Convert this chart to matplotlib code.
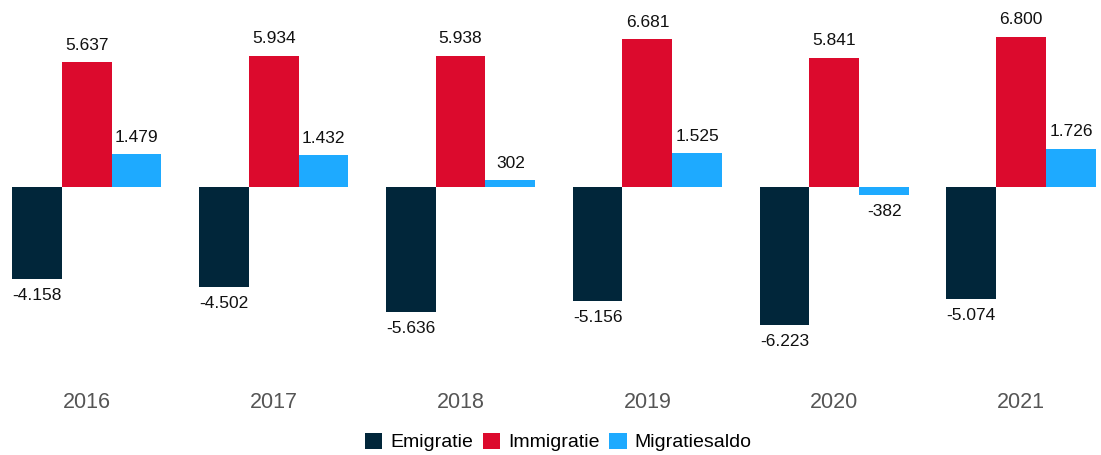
import matplotlib
matplotlib.use("Agg")
import matplotlib.pyplot as plt
import numpy as np
from matplotlib.patches import Patch

plt.rcParams["font.family"] = ["Liberation Sans", "DejaVu Sans"]

years = ["2016", "2017", "2018", "2019", "2020", "2021"]
emigratie = [-4158, -4502, -5636, -5156, -6223, -5074]
immigratie = [5637, 5934, 5938, 6681, 5841, 6800]
saldo = [1479, 1432, 302, 1525, -382, 1726]

series = [
    ("Emigratie", emigratie, "#01263a"),
    ("Immigratie", immigratie, "#dc0a2d"),
    ("Migratiesaldo", saldo, "#1eaaff"),
]


def fmt(v):
    # dutch thousands separator
    s = f"{abs(v):,}".replace(",", ".")
    return ("-" if v < 0 else "") + s


fig = plt.figure(figsize=(11.01, 4.55), dpi=100)
ax = fig.add_axes([0, 75 / 455, 1, 380 / 455])

x = np.arange(len(years))
w = 0.8 / 3
for i, (name, vals, color) in enumerate(series):
    pos = x - 0.4 + w * (i + 0.5)
    ax.bar(pos, vals, width=w, color=color, linewidth=0)
    for px, v in zip(pos, vals):
        if v >= 0:
            ax.annotate(fmt(v), (px, v), xytext=(0, 7), textcoords="offset points",
                        ha="center", va="bottom", fontsize=12.5, color="#111111")
        else:
            ax.annotate(fmt(v), (px, v), xytext=(0, -6.5), textcoords="offset points",
                        ha="center", va="top", fontsize=12.5, color="#111111")

ax.set_xlim(-0.464, 5.427)
ax.set_ylim(-8725, 8455)
ax.set_xticks(x)
ax.set_xticklabels(years, fontsize=15.5, color="#555555")
ax.tick_params(axis="x", length=0, pad=9)
ax.set_yticks([])
for sp in ax.spines.values():
    sp.set_visible(False)

handles = [Patch(facecolor=c, label=n) for n, _, c in series]
fig.legend(handles=handles, loc="center", bbox_to_anchor=(0.507, 1 - 442 / 455),
           ncol=3, frameon=False, fontsize=14, handlelength=0.9, handleheight=0.9,
           handletextpad=0.4, columnspacing=0.5)

fig.savefig("out.png", dpi=100)
